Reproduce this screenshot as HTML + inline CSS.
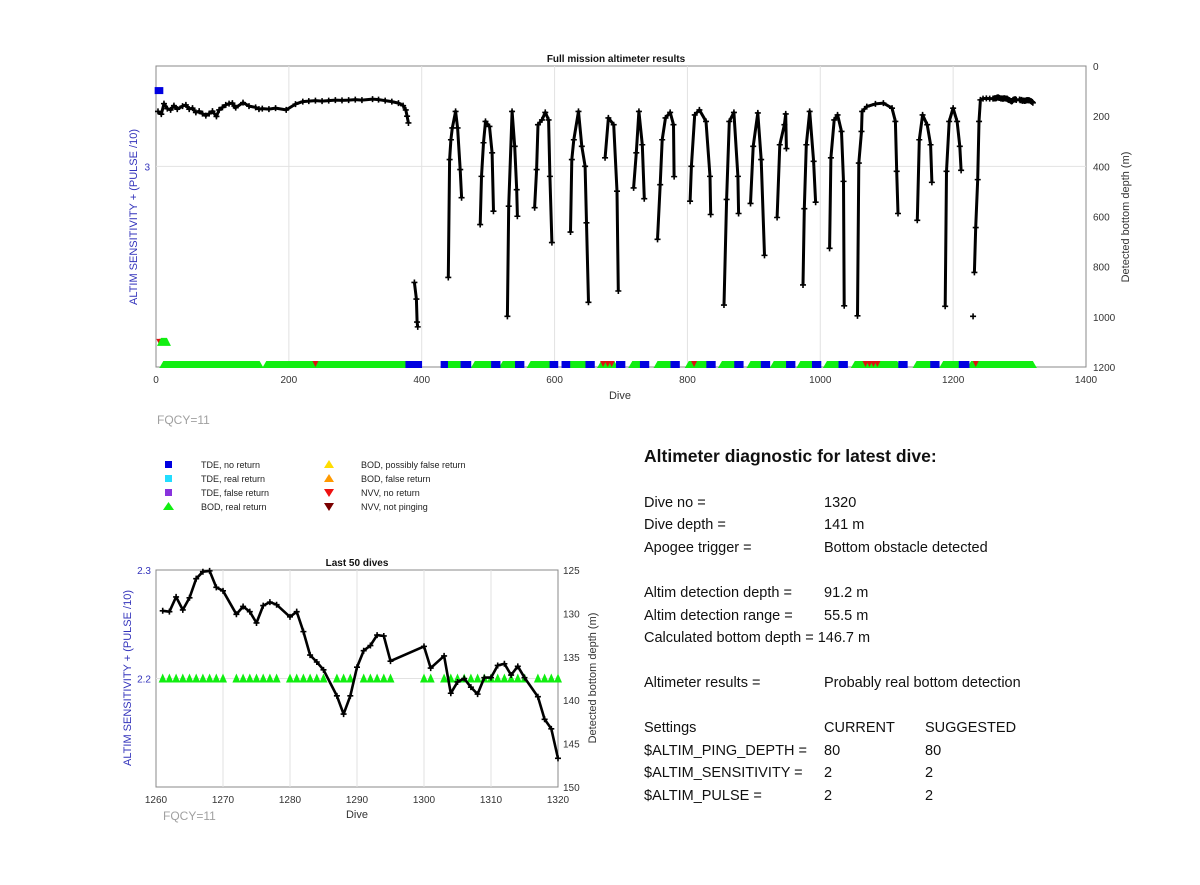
<!DOCTYPE html>
<html><head><meta charset="utf-8"><style>
body{margin:0;background:#fff}
svg{display:block;font-family:"Liberation Sans",Arial,sans-serif}
</style></head><body>
<svg id="fig" width="1200" height="885" viewBox="0 0 1200 885" xmlns="http://www.w3.org/2000/svg">
<g id="top"></g>
<g id="bot"></g>
<g><text x="157" y="424" font-size="12" fill="#a0a0a0">FQCY=11</text></g>
<g font-size="9" fill="#222">
 <g><rect x="165" y="461" width="7" height="7" fill="#0000e0"/><text x="201" y="468">TDE, no return</text></g>
 <g><rect x="165" y="475" width="7" height="7" fill="#22ddff"/><text x="201" y="482">TDE, real return</text></g>
 <g><rect x="165" y="489" width="7" height="7" fill="#8833dd"/><text x="201" y="496">TDE, false return</text></g>
 <g><polygon points="168.5,502 163,510 174,510" fill="#11ee11"/><text x="201" y="510">BOD, real return</text></g>
 <g><polygon points="329,460 324,468 334,468" fill="#ffdd00"/><text x="361" y="468">BOD, possibly false return</text></g>
 <g><polygon points="329,474 324,482 334,482" fill="#ff9900"/><text x="361" y="482">BOD, false return</text></g>
 <g><polygon points="324,489 334,489 329,497" fill="#ee1111"/><text x="361" y="496">NVV, no return</text></g>
 <g><polygon points="324,503 334,503 329,511" fill="#7a0000"/><text x="361" y="510">NVV, not pinging</text></g>
</g>
<g font-size="14.5" fill="#111">
 <text x="644" y="462" font-size="17.5" font-weight="bold">Altimeter diagnostic for latest dive:</text>
 <text x="644" y="507">Dive no =</text><text x="824" y="507">1320</text>
 <text x="644" y="529">Dive depth =</text><text x="824" y="529">141 m</text>
 <text x="644" y="552">Apogee trigger =</text><text x="824" y="552">Bottom obstacle detected</text>
 <text x="644" y="597">Altim detection depth =</text><text x="824" y="597">91.2 m</text>
 <text x="644" y="620">Altim detection range =</text><text x="824" y="620">55.5 m</text>
 <text x="644" y="642">Calculated bottom depth = 146.7 m</text>
 <text x="644" y="687">Altimeter results =</text><text x="824" y="687">Probably real bottom detection</text>
 <text x="644" y="732">Settings</text><text x="824" y="732">CURRENT</text><text x="925" y="732">SUGGESTED</text>
 <text x="644" y="755">$ALTIM_PING_DEPTH =</text><text x="824" y="755">80</text><text x="925" y="755">80</text>
 <text x="644" y="777">$ALTIM_SENSITIVITY =</text><text x="824" y="777">2</text><text x="925" y="777">2</text>
 <text x="644" y="800">$ALTIM_PULSE =</text><text x="824" y="800">2</text><text x="925" y="800">2</text>
</g>
</svg>
<script>
// ---- Last 50 dives data ----
const lastDives=[1261,1262,1263,1264,1265,1266,1267,1268,1269,1270,1272,1273,1274,1275,1276,1277,1278,1280,1281,1282,1283,1284,1285,1287,1288,1289,1290,1291,1292,1293,1294,1295,1300,1301,1303,1304,1305,1306,1307,1308,1309,1310,1311,1312,1313,1314,1315,1317,1318,1319,1320];
const lastDepths=[129.7,129.8,128.1,129.6,128.2,126,125.2,125.1,127,127.4,130.1,129.2,129.8,131.1,129.1,128.7,129,130.4,129.8,132.1,134.8,135.6,136.5,139.5,141.6,139.5,136.2,134.3,133.7,132.5,132.6,135.5,133.8,136.3,134.9,139.2,137.9,137.5,138.5,139.3,137.4,137.4,136,135.8,137.1,136.1,137.4,139.6,142.2,143.3,146.7];
const lastBodDives=[1261,1262,1263,1264,1265,1266,1267,1268,1269,1270,1272,1273,1274,1275,1276,1277,1278,1280,1281,1282,1283,1284,1285,1287,1288,1289,1291,1292,1293,1294,1295,1300,1301,1303,1304,1305,1306,1307,1308,1309,1310,1311,1312,1313,1314,1315,1317,1318,1319,1320];
const lastXTicks=[1260,1270,1280,1290,1300,1310,1320];
const lastRightTicks=[125,130,135,140,145,150];
const lastLeftTicks=[2.3,2.2];

// ---- Full mission data (null = gap) ----
const fullDives=[3,8,12,17,22,27,32,40,45,50,55,60,65,70,75,80,85,91,95,100,105,110,115,118,120,131,140,150,155,160,170,180,196,210,221,230,240,250,260,270,280,290,300,310,326,335,345,355,365,372,376,378,380,null,
389,392,393,394,null,
440,442,444,446,451,454,458,460,null,488,490,493,496,502,506,508,null,529,531,536,540,543,544,null,570,573,575,581,586,591,593,596,null,
624,626,629,636,641,646,648,651,null,676,681,689,694,696,null,719,723,727,732,735,null,755,759,762,767,774,779,780,null,
804,806,811,818,828,834,835,null,855,859,863,870,876,877,null,895,899,906,911,916,null,935,939,946,948,949,null,974,976,979,984,990,993,null,
1014,1016,1021,1026,1032,1035,1036,null,1056,1058,1062,1063,1070,1083,1095,1108,1113,1115,1117,null,1146,1149,1154,1161,1166,1168,null,
1188,1190,1194,1200,1206,1210,1212,null,1230,null,1232,1234,1237,1239,1241,1245,1250,1255,1260];
const fullDepths=[181,192,150,170,175,158,172,160,155,172,168,185,180,190,198,190,180,201,175,165,155,150,148,160,166,146,160,165,172,170,172,168,175,152,142,140,138,140,138,136,137,136,134,136,132,134,138,142,148,158,175,200,227,null,
863,929,1021,1040,null,
843,373,294,247,181,247,413,525,null,632,440,306,221,241,346,579,null,998,559,181,320,493,599,null,565,413,234,215,185,215,440,704,null,
662,373,294,181,320,400,625,942,null,366,207,234,499,897,null,486,346,181,314,529,null,691,473,294,207,185,234,441,
null,539,400,195,175,221,440,592,null,953,532,221,185,440,588,null,548,320,187,373,755,null,604,314,234,191,329,null,873,569,314,181,380,543,null,
727,366,215,195,261,460,956,null,996,387,261,181,162,151,148,168,221,420,588,null,615,294,195,234,314,464,null,
958,420,221,168,221,320,416,null,998,null,823,644,453,221,135,130,129,130,130];
const greenRuns=[[11,156],[166,377],[438,461],[480,505],[522,541],[564,594],[620,650],[670,690],[717,735],[755,780],[802,832],[852,874],[895,915],[930,950],[970,992],[1010,1032],[1052,1116],[1145,1168],[1185,1213],[1227,1320]];
const blueRuns=[[380,396],[433,435],[463,470],[509,514],[545,550],[597,601],[615,619],[651,656],[697,702],[733,738],[779,784],[833,838],[875,880],[915,920],[953,958],[992,997],[1032,1037],[1122,1127],[1170,1175],[1213,1220]];
const redDives=[5,9,240,673,680,686,810,1068,1074,1080,1086,1234];
const fullXTicks=[0,200,400,600,800,1000,1200,1400];
const fullRightTicks=[0,200,400,600,800,1000,1200];
const fullLeftTicks=[3];
const blueTopDive=[1,8], blueTopVal=3.3;
const smallGreen=[6,21], smallGreenVal=2.3;

const NS="http://www.w3.org/2000/svg";
function mk(parent,tag,attrs){const e=document.createElementNS(NS,tag);for(const k in attrs)e.setAttribute(k,attrs[k]);parent.appendChild(e);return e;}
function txt(parent,x,y,s,attrs){const t=mk(parent,'text',Object.assign({x:x,y:y},attrs||{}));t.textContent=s;return t;}

// ===== Top chart =====
(function(){
const g=document.getElementById('top');
const X0=156,X1=1086,Y0=66,Y1=367;
const xs=d=>X0+(d-0)/1400*(X1-X0);
const yd=v=>Y0+v/1200*(Y1-Y0);
const yl=v=>Y1-(v-2.2)/1.2*(Y1-Y0);
const frame=mk(g,'rect',{x:X0,y:Y0,width:X1-X0,height:Y1-Y0,fill:'#fff',stroke:'#888','stroke-width':1});


fullXTicks.forEach(t=>{
 if(t>0&&t<1400){const l=mk(g,'line',{x1:xs(t),x2:xs(t),y1:Y0,y2:Y1,stroke:'#e2e2e2'});}
 const tt=txt(g,xs(t),383,String(t),{'font-size':10,'text-anchor':'middle',fill:'#333'});
 
 
});
fullLeftTicks.forEach(t=>{
 const l=mk(g,'line',{x1:X0,x2:X1,y1:yl(t),y2:yl(t),stroke:'#e2e2e2'});
 
 
 const tt=txt(g,150,yl(t)+4,String(t),{'font-size':10,'text-anchor':'end',fill:'#3333bb'});
 
 
});
fullRightTicks.forEach(t=>{
 const tt=txt(g,1093,yd(t)+4,String(t),{'font-size':10,fill:'#333'});
 
 
});
let t=txt(g,616,62,'Full mission altimeter results',{'font-size':10,'font-weight':'bold','text-anchor':'middle',fill:'#111'});


t=txt(g,620,399,'Dive',{'font-size':11,'text-anchor':'middle',fill:'#333'});


t=txt(g,0,0,'ALTIM SENSITIVITY + (PULSE /10)',{'font-size':11,'text-anchor':'middle',fill:'#3333bb',transform:'translate(137,217) rotate(-90)'});


t=txt(g,0,0,'Detected bottom depth (m)',{'font-size':11,'text-anchor':'middle',fill:'#333',transform:'translate(1129,217) rotate(-90)'});


const gb=yl(2.2)+1;
greenRuns.forEach(r=>{
 const p=mk(g,'polygon',{points:`${xs(r[0])-4},${gb} ${xs(r[0])},${gb-7} ${xs(r[1])},${gb-7} ${xs(r[1])+4},${gb}`,fill:'#11ee11'});
 
 
});
blueRuns.forEach(r=>{
 const p=mk(g,'rect',{x:xs(r[0])-3,y:gb-7,width:xs(r[1])-xs(r[0])+6,height:7,fill:'#0000e0'});
 
 
});
redDives.forEach(d=>{
 const y=d<20?yl(smallGreenVal):gb-4;
 const p=mk(g,'polygon',{points:`${xs(d)-3},${y-3} ${xs(d)+3},${y-3} ${xs(d)},${y+3}`,fill:'#dd1111'});
 
 
});
let p=mk(g,'polygon',{points:`${xs(smallGreen[0])-3},${yl(smallGreenVal)+4} ${xs(smallGreen[0])+1},${yl(smallGreenVal)-4} ${xs(smallGreen[1])-3},${yl(smallGreenVal)-4} ${xs(smallGreen[1])+1},${yl(smallGreenVal)+4}`,fill:'#11ee11'});


p=mk(g,'rect',{x:xs(blueTopDive[0])-2,y:yl(blueTopVal)-4,width:xs(blueTopDive[1])-xs(blueTopDive[0])+4,height:7,fill:'#0000e0'});


const D=fullDives.concat(lastDives), V=fullDepths.concat(lastDepths);
let d='',pen=false;
for(let i=0;i<D.length;i++){
 if(D[i]===null){pen=false;continue;}
 d+=(pen?'L':'M')+xs(D[i]).toFixed(1)+','+yd(V[i]).toFixed(1);pen=true;
}
const line=mk(g,'path',{d:d,fill:'none',stroke:'#000','stroke-width':3,'stroke-linejoin':'round'});


for(let i=0;i<D.length;i++){
 if(D[i]===null)continue;
 const x=xs(D[i]),y=yd(V[i]);
 const m=mk(g,'path',{d:`M${x-3},${y}H${x+3}M${x},${y-3}V${y+3}`,stroke:'#000','stroke-width':1.6});
 
 
}
})();

// ===== Bottom chart =====
(function(){
const g=document.getElementById('bot');
const X0=156,X1=558,Y0=570,Y1=787;
const xs=d=>X0+(d-1260)/60*(X1-X0);
const yd=v=>Y0+(v-125)/25*(Y1-Y0);
const yl=v=>Y0+(2.3-v)/0.2*(Y1-Y0);
const frame=mk(g,'rect',{x:X0,y:Y0,width:X1-X0,height:Y1-Y0,fill:'#fff',stroke:'#888','stroke-width':1});


lastXTicks.forEach(t=>{
 if(t>1260&&t<1320){const l=mk(g,'line',{x1:xs(t),x2:xs(t),y1:Y0,y2:Y1,stroke:'#e2e2e2'});}
 const tt=txt(g,xs(t),803,String(t),{'font-size':10,'text-anchor':'middle',fill:'#333'});
 
 
});
lastLeftTicks.forEach(t=>{
 if(t<2.3){const l=mk(g,'line',{x1:X0,x2:X1,y1:yl(t),y2:yl(t),stroke:'#e2e2e2'});}
 const tt=txt(g,151,yl(t)+4,t.toFixed(1),{'font-size':10,'text-anchor':'end',fill:'#3333bb'});
 
 
});
lastRightTicks.forEach(t=>{
 const tt=txt(g,563,yd(t)+4,String(t),{'font-size':10,fill:'#333'});
 
 
});
let t=txt(g,357,566,'Last 50 dives',{'font-size':10,'font-weight':'bold','text-anchor':'middle',fill:'#111'});


t=txt(g,357,818,'Dive',{'font-size':11,'text-anchor':'middle',fill:'#333'});


t=txt(g,163,820,'FQCY=11',{'font-size':12,fill:'#a0a0a0'});


t=txt(g,0,0,'ALTIM SENSITIVITY + (PULSE /10)',{'font-size':11,'text-anchor':'middle',fill:'#3333bb',transform:'translate(131,678) rotate(-90)'});


t=txt(g,0,0,'Detected bottom depth (m)',{'font-size':11,'text-anchor':'middle',fill:'#333',transform:'translate(596,678) rotate(-90)'});


lastBodDives.forEach(dv=>{
 const x=xs(dv),y=yl(2.2);
 const p=mk(g,'polygon',{points:`${x-4},${y+4} ${x+4},${y+4} ${x},${y-5}`,fill:'#11ee11'});
 
 
});
let d='';
lastDives.forEach((dv,i)=>{d+=(i?'L':'M')+xs(dv).toFixed(1)+','+yd(lastDepths[i]).toFixed(1);});
const line=mk(g,'path',{d:d,fill:'none',stroke:'#000','stroke-width':2.6,'stroke-linejoin':'round'});


lastDives.forEach((dv,i)=>{
 const x=xs(dv),y=yd(lastDepths[i]);
 const m=mk(g,'path',{d:`M${x-3},${y}H${x+3}M${x},${y-3}V${y+3}`,stroke:'#000','stroke-width':1.6});
 
 
});
})();
</script>
</body></html>
